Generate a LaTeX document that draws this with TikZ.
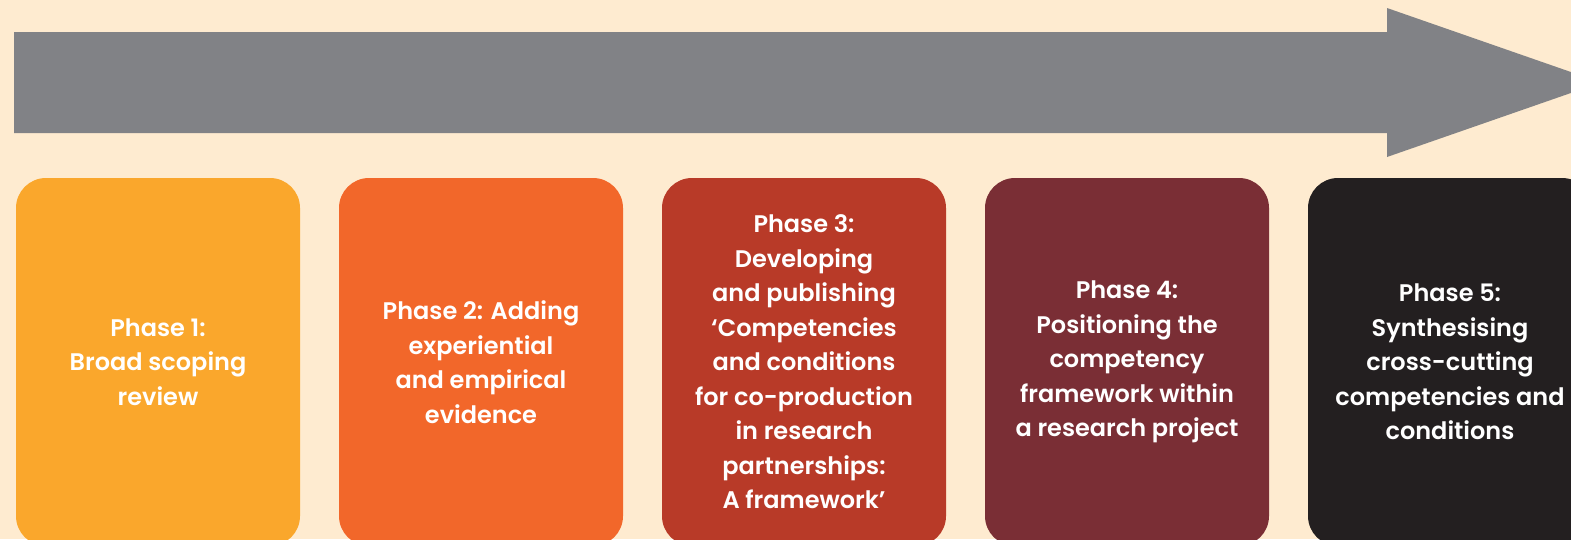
\documentclass[tikz,border=0pt]{standalone}
\usepackage{fontspec}
\setmainfont{Poppins}[BoldFont={* SemiBold}]
\definecolor{bgcream}{HTML}{FEEBD0}
\definecolor{timegray}{HTML}{818286}
\definecolor{phaseA}{HTML}{FAA72C}
\definecolor{phaseB}{HTML}{F2672A}
\definecolor{phaseC}{HTML}{B83A28}
\definecolor{phaseD}{HTML}{7A2E35}
\definecolor{phaseE}{HTML}{231F20}

\begin{document}
\begin{tikzpicture}[x=1pt,y=-1pt]
\tikzstyle{phasebox}=[rounded corners=30pt, minimum width=284pt, minimum height=368pt,
  inner sep=0pt, align=center, text=white,
  font=\fontsize{24}{34.5}\selectfont\bfseries]
\useasboundingbox (0,0) rectangle (1571,539);
\clip (0,0) rectangle (1571,539);
\fill [bgcream] (0,0) rectangle (1571,539);
% time line
\fill [timegray] (14,32) -- (1387,32) -- (1387,8) -- (1601,82.5) -- (1387,157) -- (1387,133) -- (14,133) -- cycle;
% phases
\node [phasebox, fill=phaseA] (phase1) at (158,362) {Phase 1:\\Broad scoping\\review};
\node [phasebox, fill=phaseB] (phase2) at (481,362) {Phase 2: Adding\\experiential\\and empirical\\evidence};
\node [phasebox, fill=phaseC] (phase3) at (804,362) {Phase 3:\\Developing\\and publishing\\`Competencies\\and conditions\\for co-production\\in research\\partnerships:\\A framework'};
\node [phasebox, fill=phaseD] (phase4) at (1127,362) {Phase 4:\\Positioning the\\competency\\framework within\\a research project};
\node [phasebox, fill=phaseE] (phase5) at (1450,362) {Phase 5:\\Synthesising\\cross-cutting\\competencies and\\conditions};
\end{tikzpicture}
\end{document}
